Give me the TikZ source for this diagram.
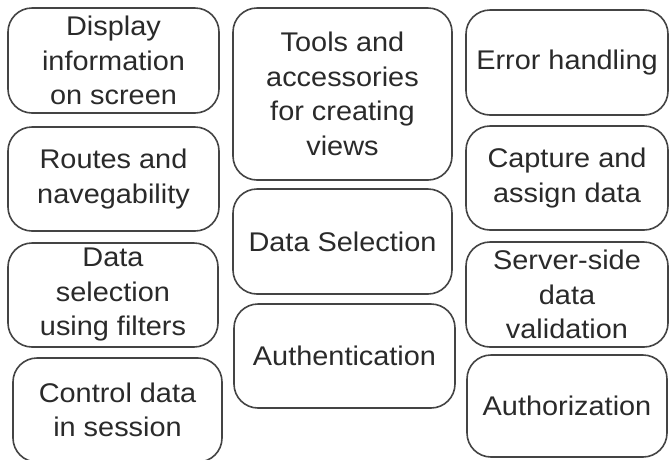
\documentclass[tikz,border=0pt]{standalone}
\usepackage{fontspec}
\setmainfont{Liberation Sans}[FakeStretch=1.07]
\definecolor{edge}{HTML}{444444}
\definecolor{ink}{HTML}{2A2A2A}
\tikzset{
  card/.style={draw=edge, line width=1.6pt, rounded corners=24pt,
    inner sep=0pt, align=center, text=ink,
    font=\fontsize{27}{34.5}\selectfont},
}
\begin{document}
\begin{tikzpicture}[x=1pt, y=-1pt]
  \clip (0,0) rectangle (669,459);
  \fill[white] (0,0) rectangle (669,459);

  % left column
  \node[card, minimum width=211pt, minimum height=105pt] (display) at (113.5,60.5) {Display\\information\\on screen};
  \node[card, minimum width=211pt, minimum height=104pt] (routes) at (113.5,179) {Routes and\\navegability};
  \node[card, minimum width=210pt, minimum height=104pt] (filters) at (113,295) {Data\\selection\\using filters};
  \node[card, minimum width=209pt, minimum height=104pt] (session) at (117.5,410) {Control data\\in session};

  % middle column
  \node[card, minimum width=219pt, minimum height=172pt] (tools) at (342.5,94) {Tools and\\accessories\\for creating\\views};
  \node[card, minimum width=219pt, minimum height=105pt] (selection) at (342.5,241.5) {Data Selection};
  \node[card, minimum width=221pt, minimum height=104pt] (authn) at (344.5,356) {Authentication};

  % right column
  \node[card, minimum width=202pt, minimum height=105pt] (errors) at (567,62.5) {Error handling};
  \node[card, minimum width=202pt, minimum height=104pt] (capture) at (567,178) {Capture and\\assign data};
  \node[card, minimum width=202pt, minimum height=105pt] (validation) at (567,294.5) {Server-side\\data\\validation};
  \node[card, minimum width=200pt, minimum height=102pt] (authz) at (567,406) {Authorization};
\end{tikzpicture}
\end{document}
